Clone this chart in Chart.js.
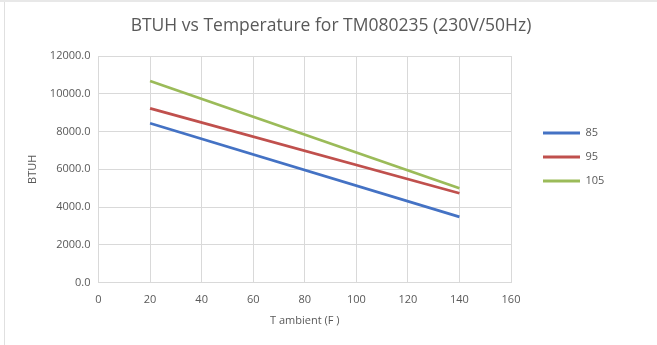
<!DOCTYPE html>
<html>
<head>
<meta charset="utf-8">
<script src="https://cdn.jsdelivr.net/npm/chart.js@4/dist/chart.umd.min.js"></script>
<style>
  html, body { margin: 0; padding: 0; background: #fff; }
  #wrap { position: absolute; left: 0; top: 0; width: 657px; height: 345px; }
  #topline { position: absolute; left: 0; top: 0; width: 657px; height: 2px; background: #e8e8e8; }
  #leftline { position: absolute; left: 4px; top: 2px; width: 1px; height: 343px; background: #e0e0e0; }
  #box { position: absolute; left: 5px; top: 2px; width: 652px; height: 343px; }
</style>
</head>
<body>
<div id="wrap">
  <div id="topline"></div>
  <div id="leftline"></div>
  <div id="box"><canvas id="c" width="652" height="343"></canvas></div>
</div>
<script>
const titleText = "BTUH vs Temperature for TM080235 (230V/50Hz)";
const xTitle = "T ambient (F )";
const yTitle = "BTUH";
const seriesNames = ["85", "95", "105"];
const tAmbient = [20, 140];
const btuh85 = [8440, 3480];
const btuh95 = [9230, 4730];
const btuh105 = [10680, 4995];
const colors = ["#4472C4", "#C0504D", "#9BBB59"];

const seriesValues = [btuh85, btuh95, btuh105];
const datasets = seriesNames.map((name, i) => ({
  label: name,
  data: tAmbient.map((t, j) => ({ x: t, y: seriesValues[i][j] })),
  borderColor: colors[i],
  backgroundColor: colors[i],
  borderWidth: 2.75,
  pointRadius: 0,
  tension: 0,
  fill: false
}));

const FONT = "'Open Sans', 'Liberation Sans', sans-serif";
const TXT = "#595959";
const GRID = "#d9d9d9";
const PAD = 15;

const legendFix = {
  id: "legendFix",
  beforeLayout(chart) {
    const lg = chart.legend;
    if (lg && !lg._fixed) {
      const orig = lg.fit.bind(lg);
      lg.fit = function () { orig(); this.width = 131; };
      lg._fixed = true;
    }
  },
  afterLayout(chart) {
    const lg = chart.legend;
    if (lg) {
      lg.left += 19; lg.right += 19;
      lg.top -= 14.5; lg.bottom -= 14.5;
    }
  }
};

new Chart(document.getElementById("c"), {
  type: "line",
  data: { datasets },
  plugins: [legendFix],
  options: {
    responsive: false,
    animation: false,
    devicePixelRatio: 1,
    layout: { padding: { left: PAD, right: PAD, top: 10, bottom: 14 } },
    plugins: {
      title: {
        display: true,
        text: titleText,
        color: TXT,
        font: { family: FONT, size: 17.5, weight: "normal" },
        padding: { top: 4, bottom: 19 }
      },
      legend: {
        position: "right",
        align: "center",
        labels: {
          color: TXT,
          font: { family: FONT, size: 11 },
          boxWidth: 37,
          boxHeight: 3,
          padding: 13,
          generateLabels: (chart) => chart.data.datasets.map((d, i) => ({
            text: d.label,
            fillStyle: d.borderColor,
            strokeStyle: d.borderColor,
            lineWidth: 0,
            fontColor: TXT,
            datasetIndex: i,
            hidden: false
          }))
        }
      },
      tooltip: { enabled: false }
    },
    scales: {
      x: {
        type: "linear",
        min: 0,
        max: 160,
        afterFit: (s) => { s.height -= 5; },
        ticks: { stepSize: 20, color: TXT, font: { family: FONT, size: 11 }, padding: 11 },
        grid: { color: GRID, drawTicks: false },
        border: { color: GRID },
        title: { display: true, text: xTitle, color: TXT, font: { family: FONT, size: 11 }, padding: { top: 1 } }
      },
      y: {
        type: "linear",
        min: 0,
        max: 12000,
        afterFit: (s) => { s.width = 78.5; },
        ticks: {
          stepSize: 2000,
          color: TXT,
          font: { family: FONT, size: 11 },
          padding: 8,
          callback: (v) => Number(v).toFixed(1)
        },
        grid: { color: GRID, drawTicks: false },
        border: { color: GRID },
        title: { display: true, text: yTitle, color: TXT, font: { family: FONT, size: 11 }, padding: { top: 6, bottom: 0 } }
      }
    }
  }
});
</script>
</body>
</html>
